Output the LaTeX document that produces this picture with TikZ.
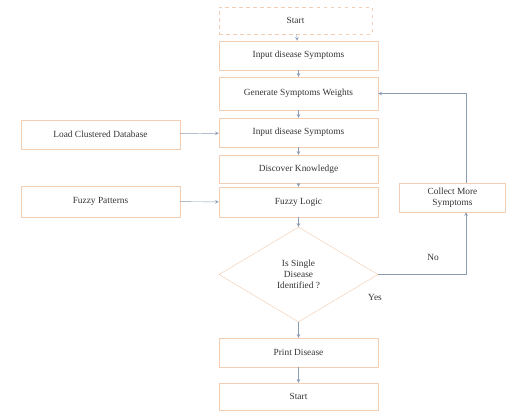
\documentclass[tikz,border=0pt]{standalone}
\usepackage{fontspec}
\setmainfont{Liberation Serif}
\usepackage{tikz}
\usetikzlibrary{shapes.geometric}
\definecolor{boxline}{RGB}{244,206,178}
\definecolor{flowline}{RGB}{140,155,180}

\begin{document}
\begin{tikzpicture}[x=0.03cm,y=-0.03cm]
\tikzstyle{box}=[draw=boxline,align=center,inner sep=2pt,font=\footnotesize,text=black!80,minimum width=4.77cm,minimum height=0.87cm]
\tikzstyle{flow}=[->,>=stealth,draw=flowline,thin]
\useasboundingbox (0,0) rectangle (506,411);

\node[box,dashed,minimum width=4.59cm,minimum height=0.81cm] (start) at (295.5,20.5) {Start};
\node[box] (inone) at (298.5,55.5) {Input disease Symptoms};
\node[box,minimum height=0.99cm] (gen) at (298.5,93.5) {Generate Symptoms Weights};
\node[box] (intwo) at (298.5,132.5) {Input disease Symptoms};
\node[box,minimum height=0.84cm] (disc) at (298.5,169) {Discover Knowledge};
\node[box,minimum height=0.9cm] (fuzzy) at (298.5,202) {Fuzzy Logic};
\node[draw=boxline,diamond,minimum width=4.77cm,minimum height=2.85cm,inner sep=0pt,align=center,font=\footnotesize,text=black!80] (dec) at (298.5,274.5) {Is Single\\Disease\\Identified ?};
\node[box] (print) at (298.5,352.5) {Print Disease};
\node[box,minimum height=0.81cm] (stop) at (298.5,396.5) {Start};

\node[box] (load) at (100.5,134.5) {Load Clustered Database};
\node[box,minimum height=0.93cm] (pattern) at (100.5,201.5) {Fuzzy Patterns};
\node[box,minimum width=3.18cm] (collect) at (452.5,197.5) {Collect More\\Symptoms};
\coordinate (loopx) at (466,0);

\draw[flow] (start) -- (inone);
\draw[flow] (inone) -- (gen);
\draw[flow] (gen) -- (intwo);
\draw[flow] (intwo) -- (disc);
\draw[flow] (disc) -- (fuzzy);
\draw[flow] (fuzzy) -- (dec);
\draw[flow] (dec) -- (print);
\draw[flow] (print) -- (stop);
\draw[flow] (load) -- (intwo);
\draw[flow] (pattern) -- (fuzzy);
\draw[flow] (dec.east) -- (dec.east -| loopx) -- (collect.south -| loopx);
\draw[flow] (collect.north -| loopx) -- (gen.east -| loopx) -- (gen.east);

\node[font=\footnotesize,text=black!80] (no) at (433,257) {No};
\node[font=\footnotesize,text=black!80] (yes) at (375,297) {Yes};
\end{tikzpicture}
\end{document}
